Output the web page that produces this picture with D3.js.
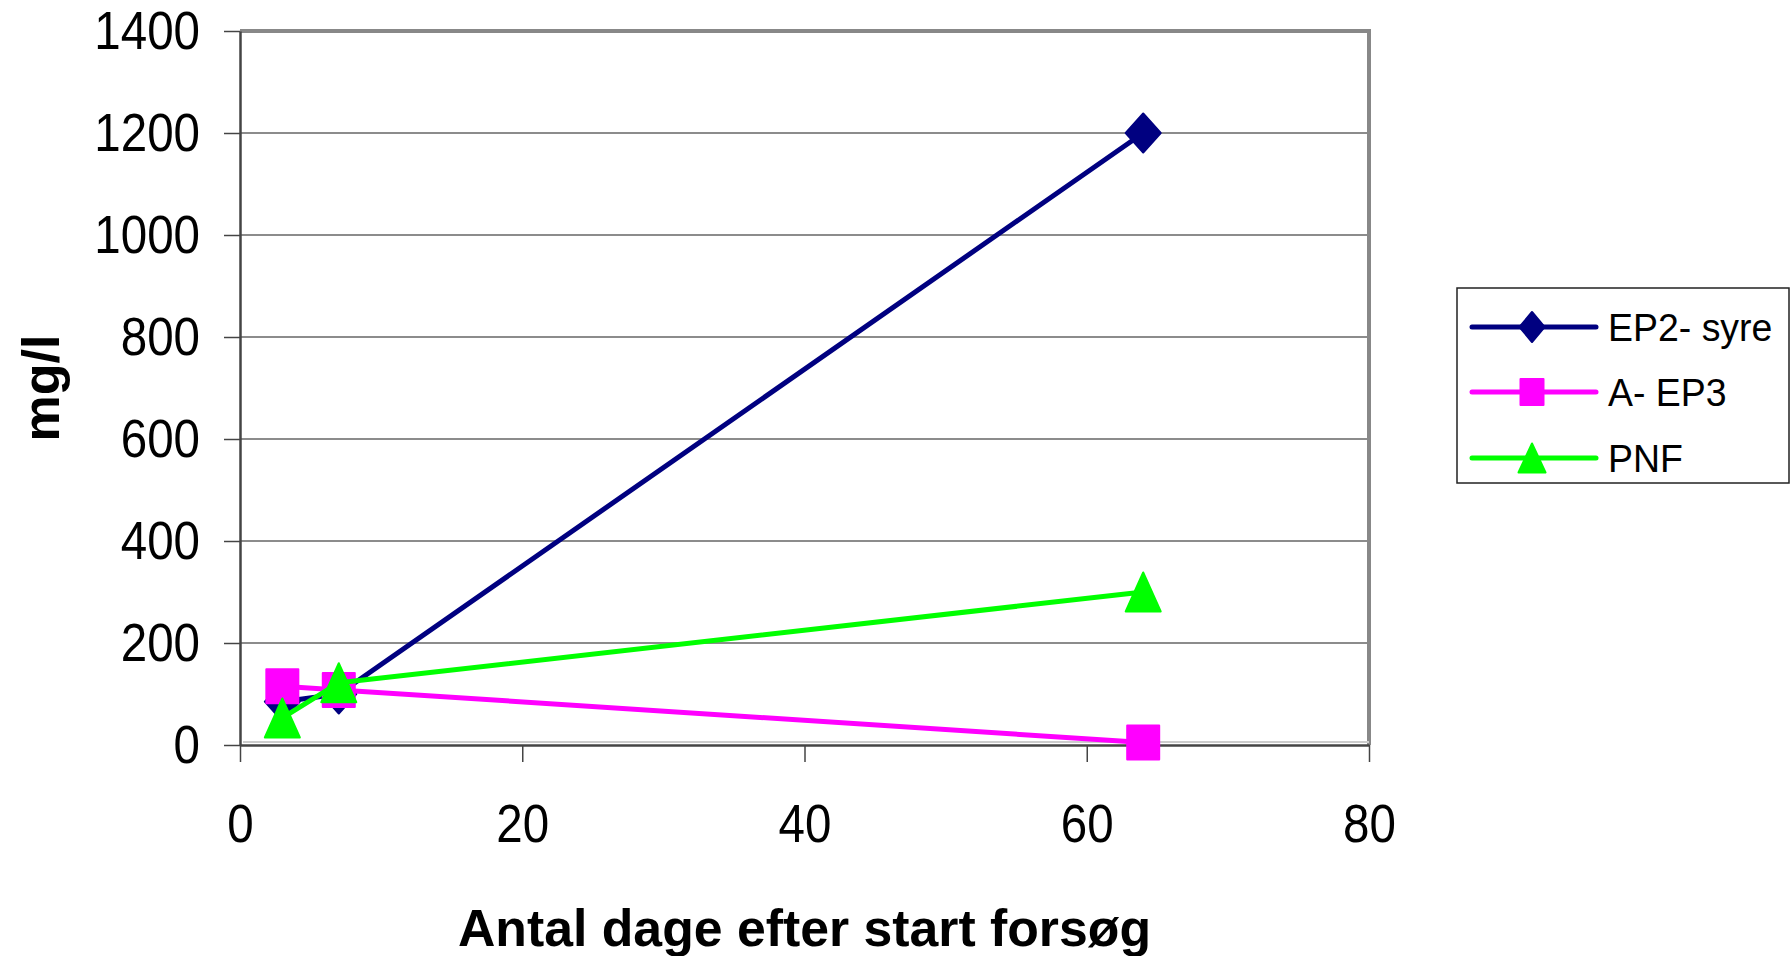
<!DOCTYPE html>
<html>
<head>
<meta charset="utf-8">
<script src="https://cdn.jsdelivr.net/npm/d3@7"></script>
<style>
  body { margin: 0; background: #fff; }
  svg text { font-family: "Liberation Sans", Arial, sans-serif; fill: #000; }
</style>
</head>
<body>
<svg id="chart" width="1792" height="956"></svg>
<script>
// data
const days = [3, 7, 64];
const ep2Syre = [85, 100, 1200];
const aEp3 = [115, 108, 5];
const pnf = [53, 122, 300];
const seriesNames = ["EP2- syre", "A- EP3", "PNF"];
const seriesColors = ["#000080", "#ff00ff", "#00ff00"];
const seriesShapes = ["diamond", "square", "triangle"];
const xTicks = [0, 20, 40, 60, 80];
const yTicks = [0, 200, 400, 600, 800, 1000, 1200, 1400];

const svg = d3.select("#chart");

const plotLeft = 240, plotRight = 1369, plotTop = 31, plotBottom = 745;

const x = d3.scaleLinear().domain([0, 80]).range([plotLeft, plotRight]);
const y = d3.scaleLinear().domain([0, 1400]).range([plotBottom, plotTop]);

// squeeze text a bit like the original
function squeeze(sel, ratio) {
  sel.each(function() {
    const w = this.getComputedTextLength();
    d3.select(this).attr("textLength", w * ratio).attr("lengthAdjust", "spacingAndGlyphs");
  });
}

// gridlines
svg.append("g")
  .selectAll("line")
  .data(yTicks.filter(d => d > 0 && d < 1400))
  .join("line")
  .attr("x1", plotLeft).attr("x2", plotRight)
  .attr("y1", d => y(d)).attr("y2", d => y(d))
  .attr("stroke", "#666").attr("stroke-width", 1.5);

// plot frame (grey top/right)
svg.append("path")
  .attr("d", `M${plotLeft},${plotTop}H${plotRight}V${plotBottom}`)
  .attr("fill", "none").attr("stroke", "#888").attr("stroke-width", 4);
svg.append("line")
  .attr("x1", plotLeft + 3).attr("x2", plotRight).attr("y1", plotBottom - 3).attr("y2", plotBottom - 3)
  .attr("stroke", "#ccc").attr("stroke-width", 2);

// axes
const yAxis = svg.append("g")
  .attr("transform", `translate(${plotLeft},0)`)
  .call(d3.axisLeft(y).tickValues(yTicks).tickFormat(d3.format("d"))
    .tickSize(16).tickPadding(24).tickSizeOuter(0));
const xAxis = svg.append("g")
  .attr("transform", `translate(0,${plotBottom})`)
  .call(d3.axisBottom(x).tickValues(xTicks).tickFormat(d3.format("d"))
    .tickSize(17).tickPadding(42).tickSizeOuter(0));

[yAxis, xAxis].forEach(ax => {
  ax.select(".domain").attr("stroke", "#444").attr("stroke-width", 2.5);
  ax.selectAll(".tick line").attr("stroke", "#444").attr("stroke-width", 1.5);
  ax.selectAll("text")
    .style("font-family", "'Liberation Sans', Arial, sans-serif")
    .style("font-size", "54px").attr("fill", "#000");
  squeeze(ax.selectAll("text"), 0.88);
});

// axis titles
svg.append("text")
  .attr("transform", `translate(59,${(plotTop + plotBottom) / 2}) rotate(-90)`)
  .attr("text-anchor", "middle")
  .style("font-size", "52px").style("font-weight", "bold")
  .text("mg/l");

svg.append("text")
  .attr("x", (plotLeft + plotRight) / 2).attr("y", 946)
  .attr("text-anchor", "middle")
  .style("font-size", "52px").style("font-weight", "bold")
  .text("Antal dage efter start forsøg")
  .attr("textLength", 693).attr("lengthAdjust", "spacingAndGlyphs");

// marker paths
function markerPath(shape, w, h) {
  if (shape === "diamond") return `M0,${-h/2}L${w/2},0L0,${h/2}L${-w/2},0Z`;
  if (shape === "square") return `M${-w/2},${-h/2}h${w}v${h}h${-w}Z`;
  return `M0,${-h/2}L${w/2},${h/2}L${-w/2},${h/2}Z`;
}

const seriesData = [ep2Syre, aEp3, pnf].map((vals, i) => ({
  name: seriesNames[i], color: seriesColors[i], shape: seriesShapes[i],
  points: days.map((d, j) => ({ day: d, value: vals[j] }))
}));

const line = d3.line().x(d => x(d.day)).y(d => y(d.value));

const markerSize = { diamond: [35, 39], square: [32, 34], triangle: [35, 39] };
const legendSize = { diamond: [25, 30], square: [23, 26], triangle: [27, 29] };

seriesData.forEach(s => {
  const g = svg.append("g");
  g.append("path")
    .attr("d", line(s.points))
    .attr("fill", "none").attr("stroke", s.color).attr("stroke-width", 5)
    .attr("stroke-linejoin", "round");
  g.selectAll("path.mk")
    .data(s.points)
    .join("path")
    .attr("class", "mk")
    .attr("transform", d => `translate(${x(d.day)},${y(d.value)})`)
    .attr("d", markerPath(s.shape, ...markerSize[s.shape]))
    .attr("fill", s.color).attr("stroke", s.color).attr("stroke-width", 2)
    .attr("stroke-linejoin", "round");
});

// legend
const legend = svg.append("g");
legend.append("rect")
  .attr("x", 1457).attr("y", 288).attr("width", 332).attr("height", 195)
  .attr("fill", "#fff").attr("stroke", "#222").attr("stroke-width", 1.5);

const rowY = [327, 392, 458];
seriesData.forEach((s, i) => {
  const r = legend.append("g").attr("transform", `translate(0,${rowY[i]})`);
  r.append("line")
    .attr("x1", 1472).attr("x2", 1596)
    .attr("stroke", s.color).attr("stroke-width", 5).attr("stroke-linecap", "round");
  r.append("path")
    .attr("transform", "translate(1532,0)")
    .attr("d", markerPath(s.shape, ...legendSize[s.shape]))
    .attr("fill", s.color).attr("stroke", s.color).attr("stroke-width", 2)
    .attr("stroke-linejoin", "round");
  const t = r.append("text")
    .attr("x", 1608).attr("dy", "0.36em")
    .style("font-size", "39px")
    .text(s.name);
  squeeze(t, 0.96);
});
</script>
</body>
</html>
